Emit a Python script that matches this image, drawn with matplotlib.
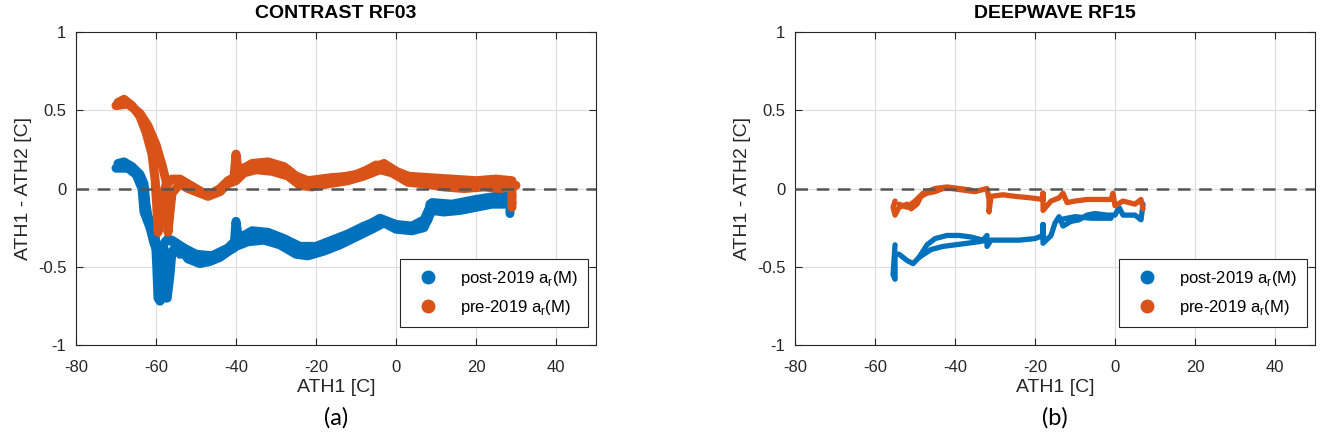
import matplotlib
matplotlib.use('Agg')
import matplotlib.pyplot as plt
from matplotlib.lines import Line2D

plt.rcParams['font.family'] = ['Liberation Sans', 'DejaVu Sans']

# colours (matlab default order)
blue = '#0072BD'
orange = '#D95319'

# ---------------- CONTRAST RF03 ----------------
# post-2019 a_r(M), several passes of the flight
a_post_x1 = [-69.5, -68, -66, -64, -63, -62.5, -62, -61, -60.2, -59.8, -59.5, -59, -58.5, -58, -57, -55.5,
             -54, -52, -50, -47, -44, -42, -40.5, -40, -39.5, -37, -34, -30, -27, -24, -22, -18, -14,
             -10, -6, -4, -1, 2, 6, 8, 8.5, 10, 14, 18, 22, 26, 28.5, 28.5]
a_post_y1 = [0.16, 0.17, 0.14, 0.09, 0.03, -0.1, -0.18, -0.22, -0.3, -0.5, -0.7, -0.72, -0.55, -0.35, -0.32, -0.35,
             -0.42, -0.4, -0.45, -0.47, -0.44, -0.4, -0.38, -0.21, -0.3, -0.3, -0.29, -0.31, -0.35, -0.4, -0.41, -0.37, -0.33,
             -0.28, -0.22, -0.19, -0.22, -0.25, -0.24, -0.2, -0.1, -0.1, -0.12, -0.1, -0.08, -0.07, -0.06, -0.16]
a_post_x2 = [-70, -67, -65, -63.5, -63, -61.5, -60.5, -59, -57.8, -57.2, -56.5, -56, -54, -52, -49, -46, -43,
             -40, -37, -33, -29, -25, -22, -18, -14, -10, -6, -3, 0, 4, 7, 9, 12, 16, 20, 24, 27, 29]
a_post_y2 = [0.13, 0.13, 0.09, 0.0, -0.15, -0.25, -0.35, -0.45, -0.7, -0.7, -0.55, -0.4, -0.38, -0.45, -0.48, -0.46, -0.42,
             -0.37, -0.34, -0.33, -0.36, -0.42, -0.43, -0.4, -0.36, -0.31, -0.26, -0.22, -0.26, -0.27, -0.25, -0.14, -0.15,
             -0.14, -0.12, -0.1, -0.1, -0.09]
a_post_x3 = [-56, -53, -50, -46, -42, -40, -36, -32, -28, -24, -20, -16, -12, -8, -4, 0, 4, 7, 9, 14, 20, 25, 29]
a_post_y3 = [-0.33, -0.38, -0.42, -0.43, -0.38, -0.33, -0.27, -0.28, -0.32, -0.37, -0.37, -0.33, -0.29, -0.24, -0.2,
             -0.23, -0.24, -0.2, -0.09, -0.1, -0.07, -0.05, -0.05]

# pre-2019 a_r(M)
a_pre_x1 = [-69.5, -68, -66, -64, -62.5, -61, -60.2, -59.8, -59.5, -58.8, -58.5, -57.5, -56, -54, -52, -50, -48,
            -46, -44, -42, -40.5, -40, -39.5, -37, -34, -30, -27, -24, -22, -18, -14, -10, -6, -3, 0, 4, 8,
            12, 16, 20, 24, 27, 29, 29]
a_pre_y1 = [0.55, 0.57, 0.53, 0.46, 0.36, 0.22, 0.05, -0.12, -0.28, -0.2, -0.05, 0.02, 0.06, 0.06, 0.03, 0.0, -0.03,
            -0.03, 0.0, 0.05, 0.07, 0.22, 0.12, 0.14, 0.15, 0.15, 0.12, 0.05, 0.03, 0.05, 0.07, 0.09, 0.13, 0.16, 0.11, 0.07, 0.06,
            0.05, 0.04, 0.03, 0.03, 0.04, 0.02, -0.12]
a_pre_x2 = [-70, -67, -64, -62, -60, -58.5, -57.5, -57, -57, -56.5, -56, -54, -52, -50, -47, -44, -42, -40, -38,
            -35, -31, -27, -24, -21, -17, -12, -8, -4, -1, 3, 7, 12, 17, 22, 26, 30]
a_pre_y2 = [0.53, 0.54, 0.48, 0.4, 0.28, 0.15, 0.05, -0.1, -0.28, -0.15, -0.03, 0.03, 0.0, -0.02, -0.05, -0.02, 0.03, 0.05, 0.1,
            0.12, 0.11, 0.08, 0.02, 0.01, 0.03, 0.05, 0.08, 0.12, 0.1, 0.04, 0.03, 0.01, 0.0, 0.01, 0.0, 0.02]
a_pre_x3 = [-40, -36, -32, -28, -25, -22, -16, -10, -5, -2, 2, 8, 14, 20, 25, 29]
a_pre_y3 = [0.1, 0.16, 0.17, 0.14, 0.08, 0.05, 0.07, 0.08, 0.15, 0.14, 0.08, 0.07, 0.06, 0.05, 0.06, 0.05]

# ---------------- DEEPWAVE RF15 ----------------
b_post_x1 = [-55, -55.5, -55, -55, -54, -52, -50.5, -49, -47, -45, -42, -39, -36, -33, -32, -32, -31, -28, -24,
             -20, -18, -18, -18, -16, -15, -14, -13, -11, -9, -7, -5, -2, 0, 1, 2, 5, 6.5, 7]
b_post_y1 = [-0.36, -0.55, -0.58, -0.42, -0.42, -0.46, -0.48, -0.44, -0.36, -0.32, -0.3, -0.3, -0.31, -0.33, -0.3, -0.37,
             -0.33, -0.33, -0.33, -0.32, -0.3, -0.23, -0.35, -0.3, -0.22, -0.18, -0.24, -0.21, -0.2, -0.17, -0.16, -0.17,
             -0.17, -0.12, -0.17, -0.17, -0.2, -0.1]
b_post_x2 = [-49, -46, -43, -40, -37, -34, -32]
b_post_y2 = [-0.44, -0.39, -0.37, -0.36, -0.35, -0.34, -0.33]
b_post_x3 = [-14, -10, -6, -3, -1]
b_post_y3 = [-0.2, -0.18, -0.19, -0.19, -0.19]

b_pre_x1 = [-55, -55.5, -55, -54, -52, -51, -49.5, -48.5, -47, -45, -43, -41, -38, -35, -32, -31.5, -31.5, -31,
            -28, -25, -21, -18, -18, -18, -16, -14, -13, -12, -10, -7, -4, -1, -0.5, 0, 2, 5, 6.5, 7]
b_pre_y1 = [-0.08, -0.12, -0.17, -0.12, -0.1, -0.13, -0.1, -0.05, -0.03, -0.02, 0.0, 0.0, -0.01, -0.02, 0.0, -0.07, -0.15,
            -0.05, -0.04, -0.05, -0.06, -0.07, -0.03, -0.14, -0.08, -0.06, -0.03, -0.09, -0.08, -0.07, -0.07, -0.07,
            -0.03, -0.11, -0.08, -0.1, -0.07, -0.13]
b_pre_x2 = [-54, -52, -50, -48, -45, -42, -39, -36]
b_pre_y2 = [-0.1, -0.12, -0.08, -0.03, 0.0, 0.01, 0.0, -0.01]

legend_labels = ['post-2019 a$_\\mathregular{r}$(M)', 'pre-2019 a$_\\mathregular{r}$(M)']


def style_axes(ax, title):
    ax.set_xlim(-80, 50)
    ax.set_ylim(-1, 1)
    ax.set_xticks([-80, -60, -40, -20, 0, 20, 40])
    ax.set_yticks([-1, -0.5, 0, 0.5, 1])
    ax.set_yticklabels(['-1', '-0.5', '0', '0.5', '1'])
    ax.set_xticklabels(['-80', '-60', '-40', '-20', '0', '20', '40'])
    ax.grid(True, color='#dcdcdc', lw=0.8)
    ax.set_axisbelow(True)
    ax.tick_params(direction='in', top=True, right=True, length=5, labelsize=12,
                   colors='#262626', width=0.8)
    ax.tick_params(axis='x', pad=11)
    ax.tick_params(axis='y', pad=7)
    for sp in ax.spines.values():
        sp.set_color('#262626')
        sp.set_linewidth(0.8)
    ax.axhline(0, color='#555555', lw=1.8, ls=(0, (5, 3.5)), zorder=4)
    ax.set_title(title, fontsize=14, fontweight='bold', pad=10)
    ax.set_xlabel('ATH1 [C]', fontsize=14, color='#262626', labelpad=3)
    ax.set_ylabel('ATH1 - ATH2 [C]', fontsize=14, color='#262626')
    handles = [Line2D([], [], ls='none', marker='o', ms=9, color=blue),
               Line2D([], [], ls='none', marker='o', ms=9, color=orange)]
    leg = ax.legend(handles, legend_labels, loc='lower right', bbox_to_anchor=(0.985, 0.058),
                    borderaxespad=0, fontsize=12, fancybox=False, framealpha=1,
                    edgecolor='#262626', handletextpad=0.8, borderpad=0.6, labelspacing=0.6,
                    handlelength=2.2)
    leg.get_frame().set_linewidth(0.8)


fig = plt.figure(figsize=(13.22, 4.42), dpi=100)
ax1 = fig.add_axes([0.0575, 0.2195, 0.3933, 0.708])
ax2 = fig.add_axes([0.6014, 0.2195, 0.3933, 0.708])

lw_a = 6.5
for xs, ys in [(a_post_x1, a_post_y1), (a_post_x2, a_post_y2), (a_post_x3, a_post_y3)]:
    ax1.plot(xs, ys, color=blue, lw=lw_a, solid_capstyle='round', solid_joinstyle='round', zorder=2)
for xs, ys in [(a_pre_x1, a_pre_y1), (a_pre_x2, a_pre_y2), (a_pre_x3, a_pre_y3)]:
    ax1.plot(xs, ys, color=orange, lw=lw_a, solid_capstyle='round', solid_joinstyle='round', zorder=3)
style_axes(ax1, 'CONTRAST RF03')

lw_b = 3.8
for xs, ys in [(b_post_x1, b_post_y1), (b_post_x2, b_post_y2), (b_post_x3, b_post_y3)]:
    ax2.plot(xs, ys, color=blue, lw=lw_b, solid_capstyle='round', solid_joinstyle='round', zorder=2)
for xs, ys in [(b_pre_x1, b_pre_y1), (b_pre_x2, b_pre_y2)]:
    ax2.plot(xs, ys, color=orange, lw=lw_b, solid_capstyle='round', solid_joinstyle='round', zorder=3)
style_axes(ax2, 'DEEPWAVE RF15')

fig.text(336 / 1322, 1 - 418 / 442, '(a)', ha='center', va='center', fontsize=17, family=['Lato', 'DejaVu Sans'])
fig.text(1055 / 1322, 1 - 418 / 442, '(b)', ha='center', va='center', fontsize=17, family=['Lato', 'DejaVu Sans'])

fig.savefig('out.png', dpi=100)
